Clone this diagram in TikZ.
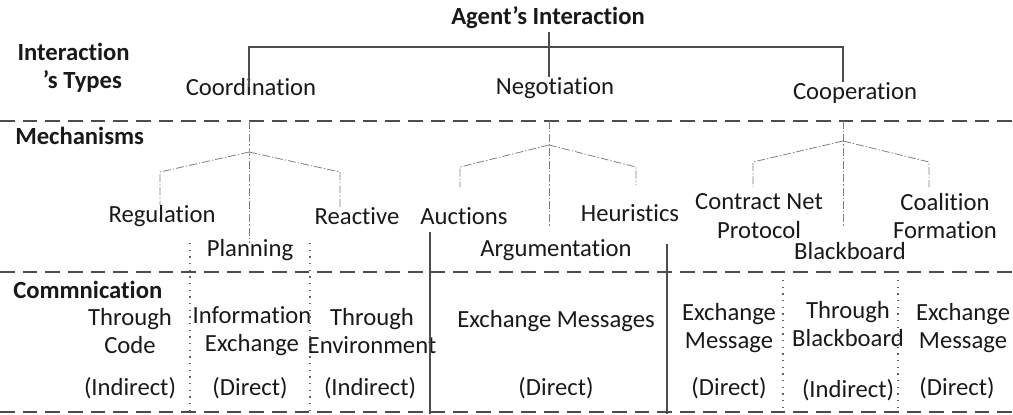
\documentclass[tikz,border=0pt]{standalone}
\usepackage{fontspec}
\setmainfont{Carlito}[Ligatures=NoCommon]
\usepackage{tikz}
\usetikzlibrary{positioning,calc}

\begin{document}
\begin{tikzpicture}[
    x=0.75pt, y=-0.75pt,
    font=\fontsize{18.5}{21.5}\selectfont,
    textNode/.style={
        inner sep=0pt, align=center, text=black!90
    },
    headNode/.style={
        textNode, font=\fontsize{18.5}{21}\selectfont\bfseries
    },
    rowLabel/.style={
        headNode, anchor=west, align=left
    },
    treeLine/.style={
        draw=black!70, line width=1.5pt
    },
    branchLine/.style={
        draw=black!50, line width=0.6pt, dash pattern=on 6pt off 1.5pt on 1pt off 1.5pt
    },
    levelSep/.style={
        draw=black!70, line width=1.5pt, dash pattern=on 11pt off 6pt
    },
    colSolid/.style={
        draw=black!70, line width=1.5pt
    },
    colDotted/.style={
        draw=black!60, line width=1pt, dash pattern=on 1pt off 4pt
    }
]
\useasboundingbox (0,0) rectangle (1013,414);

% Root and interaction types
\node[headNode] (agent) at (548,18) {Agent’s Interaction};
\node[textNode] (coord) at (251,87) {Coordination};
\node[textNode] (negot) at (555,88) {Negotiation};
\node[textNode] (coop) at (855,93) {Cooperation};

% Row labels
\node[rowLabel] (types) at (16,68) {\hspace*{1pt}Interaction\\\hspace*{20pt}’s Types};
\node[rowLabel] (mech) at (15,136) {Mechanisms};
\node[rowLabel] (comm) at (13,290) {Commnication};

% Level separators
\coordinate (sepA) at (0,121);
\coordinate (sepB) at (0,272);
\coordinate (sepC) at (0,412);
\draw[levelSep] (sepA) -- ++(1013,0);
\draw[levelSep] (sepB) -- ++(1013,0);
\draw[levelSep] (sepC) -- ++(1013,0);

% Top tree
\coordinate (barL) at (249,47);
\coordinate (barR) at (843,47);
\draw[treeLine] (coord.center -| barL) -- (barL) -- (barR) -- (coop.north -| barR);
\draw[treeLine] ([yshift=-2pt]agent.south -| 549,0) -- (negot.north -| 549,0);

% Mechanisms
\node[textNode] (regul) at (162,216) {Regulation};
\node[textNode] (plan) at (250,250) {Planning};
\node[textNode] (reac) at (357,216) {Reactive};
\node[textNode] (auct) at (464,216) {Auctions};
\node[textNode] (heur) at (630,213) {Heuristics};
\node[textNode] (argu) at (556,250) {Argumentation};
\node[textNode] (cnp) at (759,216) {Contract Net\\Protocol};
\node[textNode] (black) at (850,251) {Blackboard};
\node[textNode] (coal) at (945,216) {Coalition\\Formation};

% Mechanism branches
\coordinate (jCoord) at (249,152);
\coordinate (jNegot) at (549,145);
\coordinate (jCoop) at (843,141);
\draw[branchLine] (jCoord |- sepA) -- (jCoord) -- ([yshift=-3pt]jCoord |- plan.north);
\draw[branchLine] (jCoord) -- ++(-89,20) -- ++(0,33);
\draw[branchLine] (jCoord) -- ++(91,20) -- ++(0,35);
\draw[branchLine] (jNegot |- sepA) -- (jNegot) -- ++(0,82);
\draw[branchLine] (jNegot) -- ++(-89,22) -- ++(0,20);
\draw[branchLine] (jNegot) -- ++(87,22) -- ++(0,18);
\draw[branchLine] (jCoop |- sepA) -- (jCoop) -- ++(0,86);
\draw[branchLine] (jCoop) -- ++(-90,21) -- ++(0,25);
\draw[branchLine] (jCoop) -- ++(86,21) -- ++(0,25);

% Communication
\node[textNode] (thrCode) at (130,331) {Through\\Code};
\node[textNode] (infoEx) at (252,331) {Information\\Exchange};
\node[textNode] (thrEnv) at (372,331) {Through\\Environment};
\node[textNode] (exMsgs) at (556,321) {Exchange Messages};
\node[textNode] (exMsgA) at (729,328) {Exchange\\Message};
\node[textNode] (thrBlack) at (848,324) {Through\\Blackboard};
\node[textNode] (exMsgB) at (963,328) {Exchange\\Message};

\node[textNode] (modeA) at (130,388) {(Indirect)};
\node[textNode] (modeB) at (250,388) {(Direct)};
\node[textNode] (modeC) at (370,388) {(Indirect)};
\node[textNode] (modeD) at (556,388) {(Direct)};
\node[textNode] (modeE) at (729,388) {(Direct)};
\node[textNode] (modeF) at (848,390) {(Indirect)};
\node[textNode] (modeG) at (957,388) {(Direct)};

% Column dividers
\draw[colSolid] (430,232) -- (430,0 |- sepC) -- ++(0,2);
\draw[colSolid] (667,244) -- (667,0 |- sepC) -- ++(0,2);
\draw[colDotted] (190,243) -- (190,0 |- sepC);
\draw[colDotted] (310,243) -- (310,0 |- sepC);
\draw[colDotted] (783,280) -- (783,0 |- sepC);
\draw[colDotted] (898,280) -- (898,0 |- sepC);

\end{tikzpicture}
\end{document}
